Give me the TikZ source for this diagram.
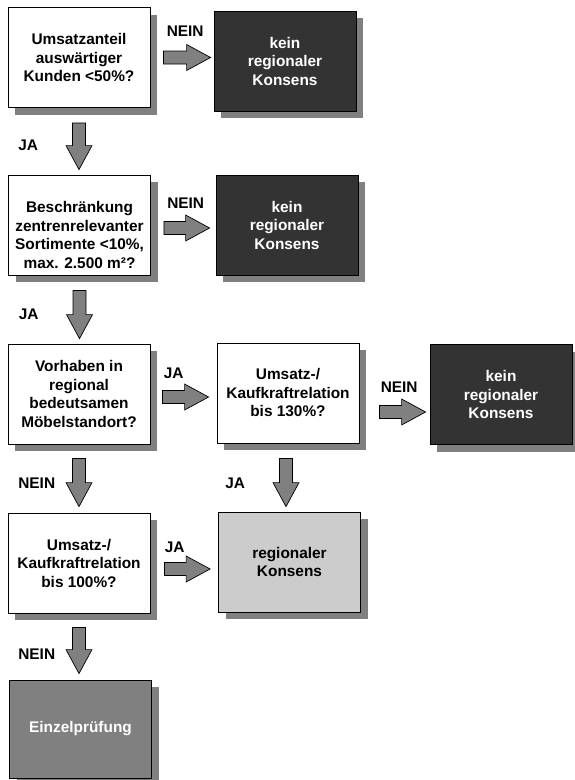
\documentclass[tikz,border=0pt]{standalone}
\usepackage{fontspec}
\setmainfont{Liberation Sans}
\usetikzlibrary{positioning,calc,shadows}
\definecolor{darkbox}{HTML}{333333}
\definecolor{lightbox}{HTML}{CCCCCC}
\definecolor{midgray}{HTML}{808080}
\tikzset{
  flowbox/.style={draw, line width=0.8pt, minimum width=142pt, minimum height=100pt,
    inner sep=0pt, align=center, font=\fontsize{15.4}{18.5}\selectfont\bfseries,
    drop shadow={shadow xshift=7pt, shadow yshift=-7pt, fill=midgray, opacity=1}},
  qbox/.style={flowbox, fill=white},
  neinbox/.style={flowbox, fill=darkbox, text=white},
  jabox/.style={flowbox, fill=lightbox},
  pruefbox/.style={flowbox, fill=midgray, text=white},
  lbl/.style={inner sep=0pt, font=\fontsize{15.4}{18.5}\selectfont\bfseries},
  rarrow/.style={draw, line width=0.7pt, fill=midgray,
    to path={let \p1=(\tikztostart), \p2=(\tikztotarget) in
      (\x1,\y1+6.5pt) -- (\x2-24pt,\y1+6.5pt) -- (\x2-24pt,\y1+13pt) -- (\x2,\y1)
      -- (\x2-24pt,\y1-13pt) -- (\x2-24pt,\y1-6.5pt) -- (\x1,\y1-6.5pt) -- cycle}},
  darrow/.style={draw, line width=0.7pt, fill=midgray,
    to path={let \p1=(\tikztostart), \p2=(\tikztotarget) in
      (\x1-6.5pt,\y1) -- (\x1-6.5pt,\y2+24pt) -- (\x1-13pt,\y2+24pt) -- (\x1,\y2)
      -- (\x1+13pt,\y2+24pt) -- (\x1+6.5pt,\y2+24pt) -- (\x1+6.5pt,\y1) -- cycle}}
}
\begin{document}
\begin{tikzpicture}[x=1pt, y=-1pt]
\useasboundingbox (0,0) rectangle (574,780);

% boxes
\node[qbox] (q1) at (79,57.5) {Umsatzanteil\\auswärtiger\\Kunden <50\%?};
\node[neinbox] (k1) at (285,61) {kein\\regionaler\\Konsens};
\node[qbox] (q2) at (79.5,225) {\rule{0pt}{31pt}Beschränkung\\zentrenrelevanter\\Sortimente <10\%,\\max. 2.500 m²?};
\node[neinbox] (k2) at (287,225) {kein\\regionaler\\Konsens};
\node[qbox] (q3) at (79,394) {Vorhaben in\\regional\\bedeutsamen\\Möbelstandort?};
\node[qbox] (q4) at (288,393) {Umsatz-/\\Kaufkraftrelation\\bis 130\%?};
\node[neinbox] (k3) at (501,394.5) {kein\\regionaler\\Konsens};
\node[qbox] (q5) at (79,563) {Umsatz-/\\Kaufkraftrelation\\bis 100\%?};
\node[jabox] (rk) at (289.5,562) {regionaler\\Konsens};
\node[pruefbox, minimum height=98pt] (ez) at (80.5,729) {Einzelprüfung};

% arrows
\draw[rarrow] ([xshift=13pt]q1.east) node[lbl, above right=21pt and 3pt] {NEIN} to ([xshift=-3pt]k1.west);
\draw[darrow] ([yshift=-15pt]q1.south) node[lbl, anchor=west, xshift=-61pt, yshift=-22pt] {JA} to ([yshift=5pt]q2.north);
\draw[rarrow] ([xshift=13pt,yshift=-3pt]q2.east) node[lbl, above right=19pt and 3pt] {NEIN} to ([xshift=-6pt,yshift=-3pt]k2.west);
\draw[darrow] ([yshift=-15pt]q2.south) node[lbl, anchor=west, xshift=-61pt, yshift=-24pt] {JA} to ([yshift=5pt]q3.north);
\draw[rarrow] ([xshift=12pt,yshift=-3pt]q3.east) node[lbl, above right=18pt and 1pt] {JA} to ([xshift=-8pt,yshift=-3pt]q4.west);
\draw[rarrow] ([xshift=20pt,yshift=-19pt]q4.east) node[lbl, above right=19pt and 1pt] {NEIN} to ([xshift=-4pt,yshift=-19pt]k3.west);
\draw[darrow] ([yshift=-14pt]q3.south) node[lbl, anchor=west, xshift=-61pt, yshift=-25pt] {NEIN} to ([yshift=6pt]q5.north);
\draw[darrow] ([xshift=-2pt,yshift=-15pt]q4.south) node[lbl, anchor=west, xshift=-61pt, yshift=-25pt] {JA} to ([xshift=-2pt,yshift=5pt]rk.north);
\draw[rarrow] ([xshift=14pt,yshift=-6pt]q5.east) node[lbl, above right=16pt and 0pt] {JA} to ([xshift=-8pt,yshift=-6pt]rk.west);
\draw[darrow] ([yshift=-14pt]q5.south) node[lbl, anchor=west, xshift=-61pt, yshift=-27pt] {NEIN} to ([yshift=6pt]ez.north);
\end{tikzpicture}
\end{document}
